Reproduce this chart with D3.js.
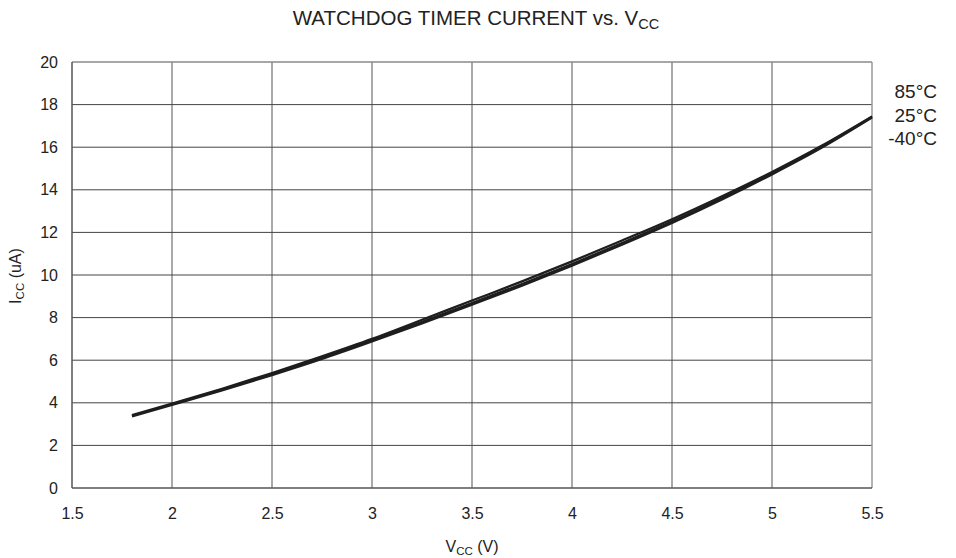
<!DOCTYPE html>
<html>
<head>
<meta charset="utf-8">
<script src="https://cdn.jsdelivr.net/npm/d3@7"></script>
<style>
  html, body { margin: 0; padding: 0; background: #fff; }
  svg { display: block; font-family: "Liberation Sans", Arial, Helvetica, sans-serif; }
</style>
</head>
<body>
<svg id="chart" width="956" height="558"></svg>
<script>
// Supply voltage (V) sample points
const vcc = [1.8, 2.0, 2.25, 2.5, 2.75, 3.0, 3.25, 3.5, 3.75, 4.0, 4.25, 4.5, 4.75, 5.0, 5.25, 5.5];

// Watchdog timer current (uA) per temperature
const icc85 = [3.42, 3.96, 4.66, 5.40, 6.18, 7.00, 7.90, 8.80, 9.70, 10.64, 11.62, 12.62, 13.70, 14.84, 16.08, 17.45];
const icc25 = [3.39, 3.93, 4.62, 5.35, 6.12, 6.94, 7.80, 8.68, 9.58, 10.52, 11.50, 12.52, 13.62, 14.78, 16.04, 17.42];
const iccM40 = [3.36, 3.90, 4.58, 5.30, 6.06, 6.88, 7.72, 8.60, 9.50, 10.44, 11.42, 12.44, 13.54, 14.72, 15.98, 17.39];

const series = [
  { name: "85°C", values: icc85 },
  { name: "25°C", values: icc25 },
  { name: "-40°C", values: iccM40 }
];

const xTicks = [1.5, 2, 2.5, 3, 3.5, 4, 4.5, 5, 5.5];
const yTicks = [0, 2, 4, 6, 8, 10, 12, 14, 16, 18, 20];

const svg = d3.select("#chart");
const margin = { left: 72, right: 84, top: 62, bottom: 70 };
const W = 956, H = 558;

const x = d3.scaleLinear().domain([1.5, 5.5]).range([margin.left, W - margin.right]);
const y = d3.scaleLinear().domain([0, 20]).range([H - margin.bottom, margin.top]);

// Grid lines
const grid = svg.append("g");
grid.selectAll("line.v").data(xTicks.slice(1, -1)).join("line")
  .attr("x1", d => x(d)).attr("x2", d => x(d))
  .attr("y1", y(0)).attr("y2", y(20))
  .attr("stroke", "#555").attr("stroke-width", 1);
grid.selectAll("line.h").data(yTicks.slice(1, -1)).join("line")
  .attr("x1", x(1.5)).attr("x2", x(5.5))
  .attr("y1", d => y(d)).attr("y2", d => y(d))
  .attr("stroke", "#444").attr("stroke-width", 1);

// Plot frame
svg.append("line").attr("x1", x(1.5)).attr("x2", x(5.5)).attr("y1", y(20)).attr("y2", y(20))
  .attr("stroke", "#8a8a8a").attr("stroke-width", 1.5);
svg.append("line").attr("x1", x(5.5)).attr("x2", x(5.5)).attr("y1", y(20)).attr("y2", y(0))
  .attr("stroke", "#9a9a9a").attr("stroke-width", 1.5);
svg.append("line").attr("x1", x(1.5)).attr("x2", x(5.5)).attr("y1", y(0)).attr("y2", y(0))
  .attr("stroke", "#555").attr("stroke-width", 1.5);
svg.append("line").attr("x1", x(1.5)).attr("x2", x(1.5)).attr("y1", y(20)).attr("y2", y(0))
  .attr("stroke", "#555").attr("stroke-width", 1.5);

// Axes (labels only)
const xAxis = d3.axisBottom(x).tickValues(xTicks).tickSize(0).tickPadding(20)
  .tickFormat(d => String(d));
const gx = svg.append("g").attr("transform", `translate(0,${y(0)})`).call(xAxis);
gx.select(".domain").remove();
gx.selectAll("text").attr("font-size", 16).attr("fill", "#222")
  .style("font-family", "'Liberation Sans', Arial, sans-serif");

const yAxis = d3.axisLeft(y).tickValues(yTicks).tickSize(0).tickPadding(14)
  .tickFormat(d => String(d));
const gy = svg.append("g").attr("transform", `translate(${x(1.5)},0)`).call(yAxis);
gy.select(".domain").remove();
gy.selectAll("text").attr("font-size", 16).attr("fill", "#222")
  .style("font-family", "'Liberation Sans', Arial, sans-serif");

// Curves
const line = d3.line()
  .x((d, i) => x(vcc[i]))
  .y(d => y(d))
  .curve(d3.curveMonotoneX);
svg.append("g").selectAll("path").data(series).join("path")
  .attr("d", s => line(s.values))
  .attr("fill", "none")
  .attr("stroke", "#1e1e1e")
  .attr("stroke-width", 2.2);

// Temperature labels
const legend = svg.append("g").attr("font-size", 19).attr("fill", "#222").attr("text-anchor", "end");
legend.selectAll("text").data(series).join("text")
  .attr("x", 937)
  .attr("y", (d, i) => 98 + i * 23.7)
  .text(d => d.name);

// Title
const title = svg.append("text").attr("x", 476).attr("y", 25).attr("text-anchor", "middle")
  .attr("font-size", 20.5).attr("fill", "#222");
title.append("tspan").text("WATCHDOG TIMER CURRENT vs. V");
title.append("tspan").attr("font-size", 14.5).attr("dy", 4).text("CC");

// X axis title
const xt = svg.append("text").attr("x", 472).attr("y", 552).attr("text-anchor", "middle")
  .attr("font-size", 16).attr("fill", "#222");
xt.append("tspan").text("V");
xt.append("tspan").attr("font-size", 11.5).attr("dy", 3).text("CC");
xt.append("tspan").attr("dy", -3).text(" (V)");

// Y axis title
const yt = svg.append("text").attr("transform", `translate(21,${y(10) + 1}) rotate(-90)`)
  .attr("text-anchor", "middle").attr("font-size", 16).attr("fill", "#222");
yt.append("tspan").text("I");
yt.append("tspan").attr("font-size", 11.5).attr("dy", 3).text("CC");
yt.append("tspan").attr("dy", -3).text(" (uA)");
</script>
</body>
</html>
